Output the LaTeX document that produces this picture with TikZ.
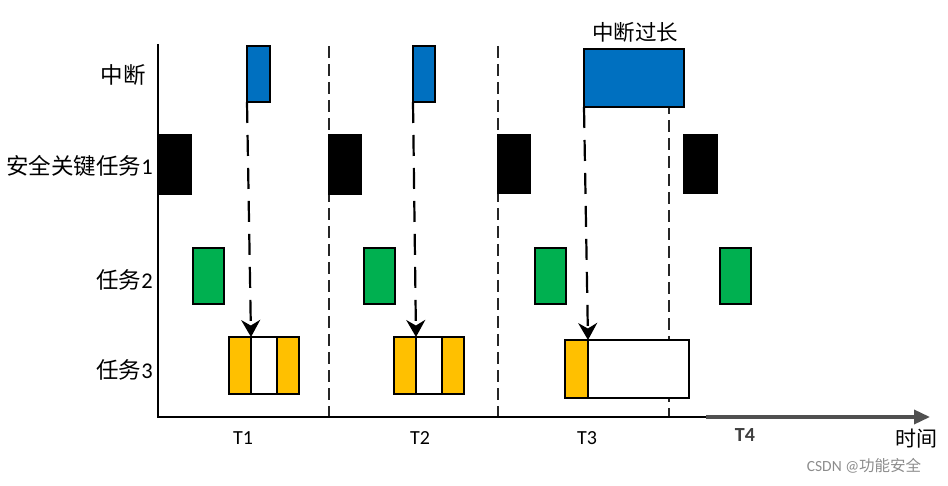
\documentclass[tikz,border=0pt]{standalone}
\usepackage{fontspec}
\setmainfont{Carlito}
\newfontfamily\cjk{Noto Sans CJK SC}
\usetikzlibrary{arrows.meta}
\definecolor{intblue}{HTML}{0070C0}
\definecolor{taskgreen}{HTML}{00B050}
\definecolor{taskyellow}{HTML}{FFC000}
\definecolor{axisgray}{HTML}{505050}
\definecolor{markgray}{HTML}{8C8C8C}
\tikzset{
  box/.style={draw=black, line width=1.5pt, inner sep=0pt, outer sep=0pt, anchor=north west},
  intbox/.style={box, fill=intblue},
  safebox/.style={box, fill=black},
  greenbox/.style={box, fill=taskgreen},
  yelbox/.style={box, fill=taskyellow},
  whitebox/.style={box, fill=white},
  rowlabel/.style={anchor=east, inner sep=0pt, font=\fontsize{22.5}{26}\selectfont},
  tlabel/.style={inner sep=0pt, font=\fontsize{20}{24}\selectfont},
  periodline/.style={draw=black!85, line width=1.1pt, dash pattern=on 12pt off 6pt},
  dasharrow/.style={draw=black, line width=2.2pt, dash pattern=on 21pt off 12pt, -{Stealth[length=17pt,width=19pt]}},
  axis/.style={draw=black, line width=2pt}
}
\begin{document}
\begin{tikzpicture}[x=1pt,y=-1pt]
\useasboundingbox (0,0) rectangle (948,486);

% period dashed lines
\coordinate (p1t) at (329,46);
\coordinate (p1b) at (329,417);
\coordinate (p2t) at (498,46);
\coordinate (p2b) at (498,417);
\coordinate (p3t) at (669,48);
\coordinate (p3b) at (669,417);
\draw[periodline] (p1t) -- (p1b);
\draw[periodline] (p2t) -- (p2b);
\draw[periodline] (p3t) -- (p3b);

% axes
\coordinate (ytop) at (158,44);
\coordinate (origin) at (158,417);
\coordinate (xmid) at (706,417);
\coordinate (xend) at (930,417);
\draw[axis] (ytop) -- (origin) -- (xmid);
\draw[draw=axisgray, line width=3.5pt, -{Triangle[length=16pt,width=14pt]}] (xmid) -- (xend);

% interrupts
\node[intbox, minimum width=23pt, minimum height=56pt] (i1) at (247,46) {};
\node[intbox, minimum width=22pt, minimum height=56pt] (i2) at (413,46) {};
\node[intbox, minimum width=100pt, minimum height=58pt] (i3) at (584,49) {};

% safety-critical task 1
\node[safebox, minimum width=33pt, minimum height=59pt] (s1) at (158,135) {};
\node[safebox, minimum width=32pt, minimum height=59pt] (s2) at (329,135) {};
\node[safebox, minimum width=32pt, minimum height=58pt] (s3) at (498,135) {};
\node[safebox, minimum width=33pt, minimum height=58pt] (s4) at (684,135) {};

% task 2
\node[greenbox, minimum width=31pt, minimum height=56pt] (g1) at (193,248) {};
\node[greenbox, minimum width=31pt, minimum height=56pt] (g2) at (364,248) {};
\node[greenbox, minimum width=31pt, minimum height=56pt] (g3) at (535,248) {};
\node[greenbox, minimum width=31pt, minimum height=56pt] (g4) at (720,248) {};

% task 3
\node[yelbox, minimum width=22pt, minimum height=57pt] (a1) at (229,337) {};
\node[whitebox, minimum width=26pt, minimum height=57pt] (w1) at (251,337) {};
\node[yelbox, minimum width=22pt, minimum height=57pt] (b1) at (277,337) {};
\node[yelbox, minimum width=22pt, minimum height=57pt] (a2) at (394,337) {};
\node[whitebox, minimum width=26pt, minimum height=57pt] (w2) at (416,337) {};
\node[yelbox, minimum width=22pt, minimum height=57pt] (b2) at (442,337) {};
\node[yelbox, minimum width=23pt, minimum height=58pt] (a3) at (565,340) {};
\node[whitebox, minimum width=101pt, minimum height=58pt] (w3) at (588,340) {};

% interrupt arrows
\draw[dasharrow] (i1.south west) -- (w1.north west);
\draw[dasharrow] (i2.south west) -- (w2.north west);
\draw[dasharrow] (i3.south west) -- (w3.north west);

% labels
\node[rowlabel] (l1) at (146,75) {\cjk 中断};
\node[rowlabel] (l2) at (153,166) {{\cjk 安全关键任务}1};
\node[rowlabel] (l3) at (153,280) {{\cjk 任务}2};
\node[rowlabel] (l4) at (153,370) {{\cjk 任务}3};
\node[inner sep=0pt, font=\cjk\fontsize{21.5}{25}\selectfont] (long) at (635,32) {中断过长};

\node[tlabel] (t1) at (243,438) {T1};
\node[tlabel] (t2) at (420,438) {T2};
\node[tlabel] (t3) at (587,438) {T3};
\node[tlabel, font=\fontsize{20}{24}\selectfont\bfseries, text=black!75] (t4) at (745,435) {T4};
\node[inner sep=0pt, font=\cjk\fontsize{21}{24}\selectfont] (time) at (916,439) {时间};
\node[inner sep=0pt, text=markgray, font=\fontsize{15.5}{18}\selectfont] (mark) at (864,466) {CSDN @{\cjk 功能安全}};
\end{tikzpicture}
\end{document}
